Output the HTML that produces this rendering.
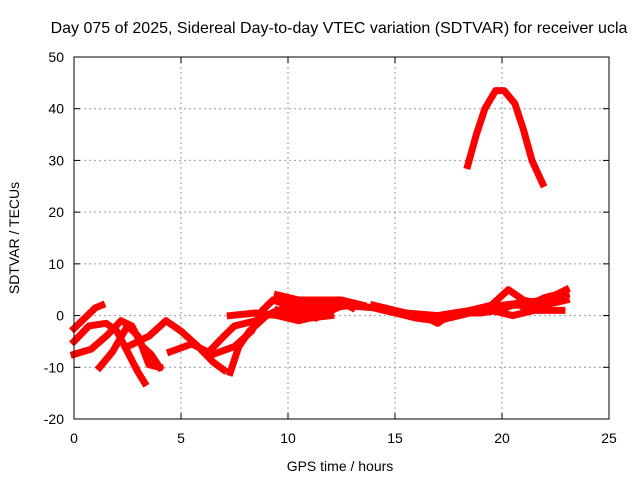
<!DOCTYPE html>
<html><head><meta charset="utf-8"><style>
body{margin:0;background:#fff;}
svg{display:block;font-family:"Liberation Sans",sans-serif;}
</style></head><body>
<svg id="chart" width="640" height="480">
<rect width="640" height="480" fill="#fff"/>
<text x="339" y="33" font-size="16" text-anchor="middle">Day 075 of 2025, Sidereal Day-to-day VTEC variation (SDTVAR) for receiver ucla</text>
<text x="340" y="471" font-size="14" text-anchor="middle">GPS time / hours</text>
<text transform="translate(19,238) rotate(-90)" font-size="14" text-anchor="middle">SDTVAR / TECUs</text>
<g id="grid"></g><g id="series"></g><g id="axes"></g>
</svg>
<script>
const xTicks=[0,5,10,15,20,25];
const yTicks=[-20,-10,0,10,20,30,40,50];
const arc=[[18.4,29],[18.8,35],[19.2,40],[19.7,43.5],[20.1,43.5],[20.6,41],[21.0,36],[21.4,30],[21.9,25.5]];
const s2=[[0,-2.5],[0.5,-0.5],[1.0,1.5],[1.3,2]];
const s3=[[0,-5],[0.7,-2],[1.5,-1.5],[2.0,-3],[2.5,-7],[3.0,-11],[3.3,-13]];
const s4=[[0,-7.5],[0.8,-6.5],[1.5,-4],[2.2,-1],[2.7,-2],[3.2,-6],[3.6,-7.5],[4.0,-10]];
const s5=[[1.2,-10],[1.8,-7],[2.5,-2],[3.0,-4],[3.5,-9.5],[4.0,-10]];
const s6=[[2.5,-6],[3.5,-4],[4.3,-1],[5,-3],[5.8,-6],[6.5,-9],[7,-10.5]];
const s7=[[4.5,-7],[5.5,-5.5],[6.5,-7.5],[7.5,-6],[8.3,-3],[8.8,1],[9.3,3],[10,2],[11,1],[12,1.5],[13,2],[14,1.5],[15,0.5],[16,-0.5],[17,-1],[18,0],[19,1],[20,2],[21,2.5],[22,3],[23,4]];
const s8=[[7.3,0],[8.5,0.5],[9.5,0],[10.5,-1],[11.5,0],[12.5,2],[14,1.5],[15.5,0.5],[17,0],[18.5,1],[19.5,2],[20.3,5],[21,3],[22,2],[22.8,3]];
const s9=[[9.5,4],[10.5,3],[11.5,3],[12.5,3],[13.5,2]];
const s10=[[19.5,1],[20.5,0],[21.5,1],[22.8,1]];
const s11=[[7.3,-11],[7.7,-6],[8.2,-3],[9,0],[10,1],[11,-0.5],[12,0]];
const s12=[[6.3,-7],[7,-4],[7.5,-2],[8.5,-1],[9.5,1],[10.5,2],[11.5,2.5]];
const s13=[[9.5,1],[10,0],[10.5,1.5],[11,2],[11.5,1],[12,3],[12.5,2.5],[13,1.5]];
const s14=[[9.8,3.5],[10.3,2],[10.8,1],[11.3,-0.5],[11.8,0.5],[12.3,1.5]];
const s15=[[14,2],[15,1],[16,0],[16.5,-0.5],[17,-1.5],[17.5,0],[18.3,0.5],[19,0.5],[19.8,1],[20.5,2],[21.5,2],[22.5,2.5],[23,3]];
const s16=[[21,1.5],[21.5,2.5],[22,3.5],[22.5,4],[23,5]];
const allSeries=[arc,s2,s3,s4,s5,s6,s7,s8,s9,s10,s11,s12,s13,s14,s15,s16];
const X0=74,X1=609,Y0=419,Y1=57;
const sx=h=>X0+(h-0)/(25-0)*(X1-X0);
const sy=v=>Y0-(v+20)/70*(Y0-Y1);
const NS="http://www.w3.org/2000/svg";
const g=document.getElementById('grid'),se=document.getElementById('series'),ax=document.getElementById('axes');
function mk(tag,at,par){const e=document.createElementNS(NS,tag);for(const k in at)e.setAttribute(k,at[k]);par.appendChild(e);return e;}
xTicks.forEach(t=>{const x=sx(t);
 if(t>0&&t<25){const l=mk('line',{x1:x,x2:x,y1:Y1,y2:Y0,stroke:'#999','stroke-dasharray':'2,3'},g);
 
 }
 const tx=mk('text',{x:x,y:Y0+24,'font-size':14,'text-anchor':'middle'},ax);tx.textContent=t;
 
 
 mk('line',{x1:x,x2:x,y1:Y0,y2:Y0-6,stroke:'#000'},ax);mk('line',{x1:x,x2:x,y1:Y1,y2:Y1+6,stroke:'#000'},ax);});
yTicks.forEach(t=>{const y=sy(t);
 if(t>-20&&t<50){const l=mk('line',{x1:X0,x2:X1,y1:y,y2:y,stroke:'#999','stroke-dasharray':'2,3'},g);
 
 }
 const tx=mk('text',{x:X0-10,y:y+5,'font-size':14,'text-anchor':'end'},ax);tx.textContent=t;
 
 
 mk('line',{x1:X0,x2:X0+6,y1:y,y2:y,stroke:'#000'},ax);mk('line',{x1:X1,x2:X1-6,y1:y,y2:y,stroke:'#000'},ax);});
const fr=mk('rect',{x:X0,y:Y1,width:X1-X0,height:Y0-Y1,fill:'none',stroke:'#000'},ax);


allSeries.forEach(s=>{const p=mk('polyline',{points:s.map(d=>sx(d[0])+','+sy(d[1])).join(' '),fill:'none',stroke:'#f00','stroke-width':7,'stroke-linejoin':'round','stroke-linecap':'square'},se);
 
 });
</script>
</body></html>
